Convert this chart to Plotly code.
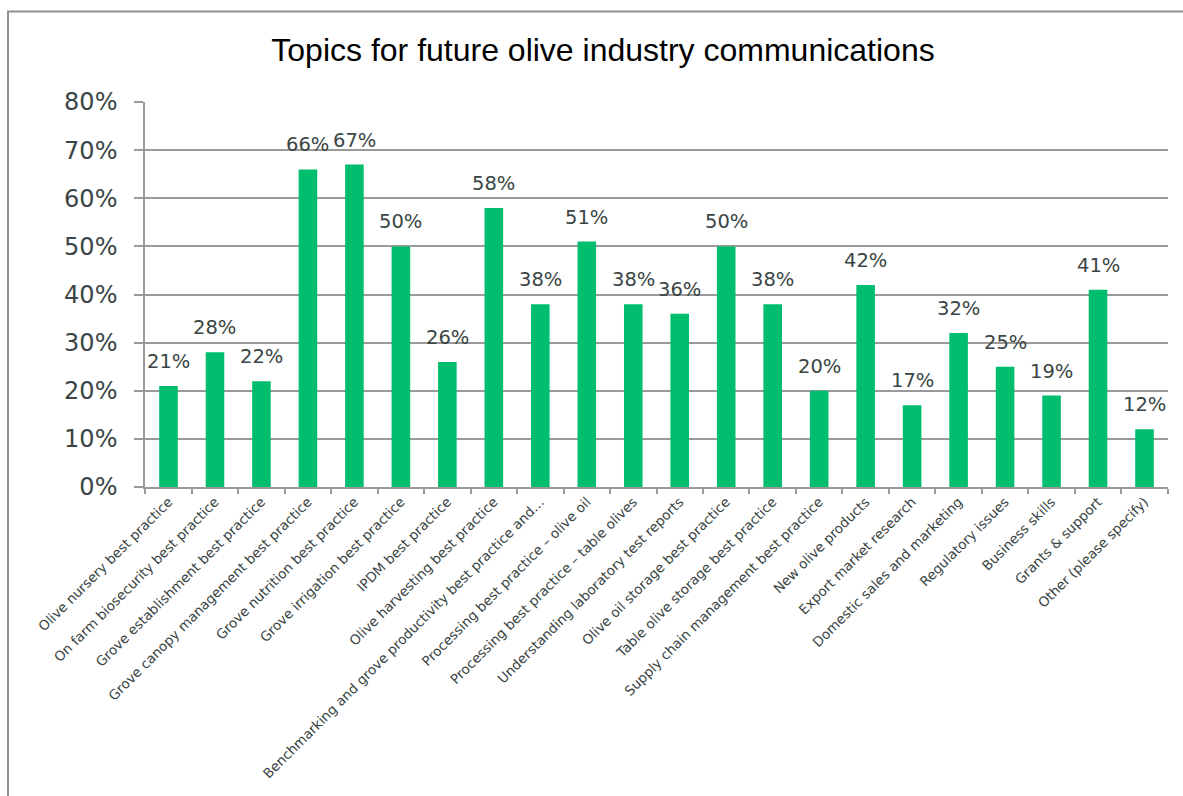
import plotly.graph_objects as go

categories = [
    "Olive nursery best practice",
    "On farm biosecurity best practice",
    "Grove establishment best practice",
    "Grove canopy management best practice",
    "Grove nutrition best practice",
    "Grove irrigation best practice",
    "IPDM best practice",
    "Olive harvesting best practice",
    "Benchmarking and grove productivity best practice and…",
    "Processing best practice – olive oil",
    "Processing best practice – table olives",
    "Understanding laboratory test reports",
    "Olive oil storage best practice",
    "Table olive storage best practice",
    "Supply chain management best practice",
    "New olive products",
    "Export market research",
    "Domestic sales and marketing",
    "Regulatory issues",
    "Business skills",
    "Grants & support",
    "Other (please specify)",
]
percent = [21, 28, 22, 66, 67, 50, 26, 58, 38, 51, 38, 36, 50, 38, 20, 42, 17, 32, 25, 19, 41, 12]
y_ticks = [0, 10, 20, 30, 40, 50, 60, 70, 80]

W, H = 1183, 796
L, R, T, B = 145, 15, 102, 309
TEXT = "#3a4544"
GRID = "#9a9a9a"

fig = go.Figure(
    go.Bar(
        x=categories,
        y=[v / 100 for v in percent],
        marker=dict(color="#00BE6E", line=dict(width=0)),
        width=0.4,
        cliponaxis=False,
    )
)

# value labels above each bar
for cat, v in zip(categories, percent):
    fig.add_annotation(
        x=cat, y=v / 100, text=f"{v}%",
        xref="x", yref="y",
        showarrow=False, yanchor="bottom", yshift=11,
        font=dict(family="DejaVu Sans", size=19.5, color=TEXT),
    )

# outer chart frame (left and top edges)
pw = W - L - R
ph = H - T - B
fig.add_shape(
    type="rect", xref="paper", yref="paper",
    x0=(8 - L) / pw, x1=(W + 20 - L) / pw,
    y0=-(B + 20) / ph, y1=(H - B - 11.5) / ph,
    line=dict(color="#8f8f8f", width=2), fillcolor="rgba(0,0,0,0)",
)

fig.update_layout(
    width=W, height=H,
    margin=dict(l=L, r=R, t=T, b=B),
    paper_bgcolor="white", plot_bgcolor="white",
    showlegend=False,
    bargap=0.6,
    title=dict(
        text="Topics for future olive industry communications",
        x=603 / W, xanchor="center", xref="container",
        y=1 - 50 / H, yanchor="middle", yref="container",
        font=dict(family="Liberation Sans", size=32, color="#000000"),
    ),
)
fig.update_yaxes(
    range=[0, 0.8],
    tickvals=[t / 100 for t in y_ticks],
    ticktext=[f"{t}%" for t in y_ticks],
    tickfont=dict(family="DejaVu Sans", size=24, color=TEXT),
    ticklabelstandoff=12,
    showgrid=True, gridcolor=GRID, gridwidth=1.5,
    showline=True, linecolor=GRID, linewidth=1.5,
    ticks="outside", ticklen=9, tickcolor=GRID, tickwidth=1.5,
    zeroline=False, automargin=False,
)
fig.update_xaxes(
    type="category",
    tickangle=-45,
    tickfont=dict(family="DejaVu Sans", size=13.5, color=TEXT),
    showline=True, linecolor=GRID, linewidth=1.5,
    ticks="outside", tickson="boundaries", ticklen=5, tickcolor=GRID, tickwidth=1.5,
    showgrid=False, automargin=False,
)

fig.write_html("out.html")
